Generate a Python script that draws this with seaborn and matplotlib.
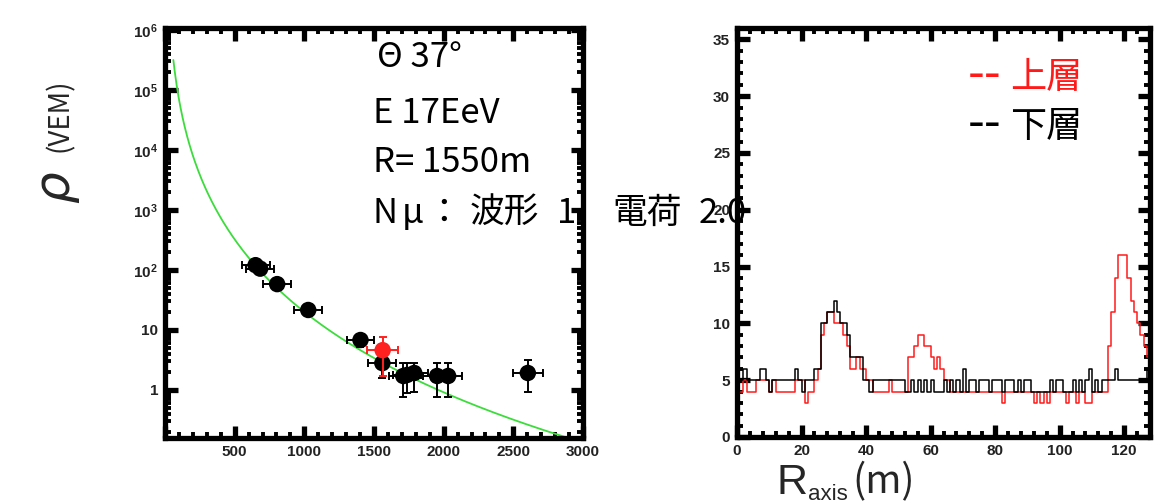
import numpy as np
import pandas as pd
import matplotlib
matplotlib.use("Agg")
import matplotlib.pyplot as plt
import seaborn as sns
from matplotlib.ticker import MultipleLocator, FixedLocator, FixedFormatter, LogLocator, NullFormatter

# ---------------- lateral distribution: station densities ----------------
station_r = [650, 683, 805, 1028, 1403, 1560, 1710, 1738, 1789, 1953, 2032, 2604]
station_rho = [120, 105, 58, 21.5, 6.8, 2.8, 1.71, 1.78, 1.92, 1.71, 1.71, 1.92]
station_r_err = [100, 100, 100, 100, 100, 100, 100, 100, 100, 100, 100, 108]
station_rho_lo = [15, 15, 8, 3, 1.6, 1.2, 0.95, 0.9, 1.0, 0.95, 0.95, 1.0]
station_rho_hi = [15, 15, 8, 3, 1.8, 1.4, 1.1, 1.0, 0.9, 1.1, 1.1, 1.25]

# station selected for the muon analysis
sel_r = [1562]
sel_rho = [4.6]
sel_r_err = [110]
sel_rho_lo = [2.9]
sel_rho_hi = [3.0]

# NKG-type LDF fit parameters
ldf_s1000 = 20.0
ldf_beta = 2.67
ldf_r0 = 700.0
ldf_r_range = [60, 2870]

# ---------------- signal histograms vs distance along axis ----------------
bin_edges_m = list(range(0, 129))
upper_layer = [
    4, 4, 5, 4, 4, 4, 5, 5, 5, 5, 4, 5, 4, 4, 4, 4,
    4, 4, 5, 5, 5, 3, 4, 4, 5, 6, 9, 10, 11, 11, 10, 10,
    10, 9, 8, 6, 6, 7, 6, 6, 5, 5, 4, 4, 4, 4, 4, 5,
    4, 4, 4, 4, 4, 7, 7, 8, 9, 9, 8, 8, 7, 6, 7, 6,
    5, 5, 4, 4, 4, 4, 4, 4, 4, 4, 4, 4, 4, 4, 4, 4,
    4, 4, 3, 4, 4, 4, 4, 4, 4, 4, 4, 4, 3, 4, 3, 4,
    3, 4, 4, 4, 4, 4, 3, 4, 4, 3, 4, 4, 3, 3, 4, 4,
    4, 4, 4, 8, 11, 14, 16, 16, 16, 14, 12, 11, 10, 9, 8, 7,
]
lower_layer = [
    5, 5, 6, 5, 5, 5, 5, 6, 6, 5, 4, 5, 5, 5, 5, 5,
    5, 5, 6, 5, 4, 5, 5, 5, 6, 6, 10, 10, 11, 11, 12, 11,
    10, 10, 9, 7, 7, 7, 7, 5, 5, 4, 5, 5, 5, 5, 5, 5,
    5, 5, 5, 5, 4, 4, 5, 4, 5, 4, 5, 4, 5, 4, 4, 4,
    5, 4, 5, 4, 5, 4, 6, 4, 5, 5, 4, 5, 5, 5, 4, 5,
    5, 5, 4, 5, 5, 5, 4, 5, 4, 5, 5, 4, 4, 4, 4, 4,
    4, 5, 4, 5, 5, 4, 4, 4, 5, 4, 5, 4, 5, 6, 4, 5,
    4, 5, 5, 5, 5, 6, 5, 5, 5, 5, 5, 5, 5, 5, 5, 6,
]

info_lines = ["Θ 37°", "E 17EeV", "R= 1550m"]
layer_names = ["上層", "下層"]

# ---------------- figure ----------------
sns.set_style("ticks")
plt.rcParams["font.family"] = ["Noto Sans CJK JP", "DejaVu Sans"]
plt.rcParams["mathtext.fontset"] = "custom"
plt.rcParams["mathtext.rm"] = "Liberation Sans"
plt.rcParams["mathtext.bf"] = "Liberation Sans:bold"

W, H = 1162, 503
fig = plt.figure(figsize=(W / 100, H / 100), dpi=100)
fig.patch.set_facecolor("white")


def fx(px):
    return px / W


def fy(py):
    return 1 - py / H


ax1 = fig.add_axes([fx(165), fy(438), 418 / W, 410 / H])
ax2 = fig.add_axes([fx(737), fy(437), 413 / W, 409 / H])


def frame(ax):
    ax.set_facecolor("none")
    for sp in ax.spines.values():
        sp.set_linewidth(3.8)
        sp.set_color("black")
        sp.set_visible(True)
    ax.tick_params(which="both", direction="in", top=True, right=True,
                   bottom=True, left=True, color="black")
    ax.tick_params(which="major", length=9, width=3.8, labelsize=11,
                   labelcolor="#222222", pad=5, labelfontfamily="Liberation Sans")
    ax.tick_params(which="minor", length=4.5, width=2.8)
    ax.grid(False)


# ---- left: lateral distribution ----
r_fit = np.linspace(ldf_r_range[0], ldf_r_range[1], 600)
x_fit = r_fit / ldf_r0
x_ref = 1000.0 / ldf_r0
rho_fit = ldf_s1000 * ((x_fit * (1 + x_fit)) / (x_ref * (1 + x_ref))) ** (-ldf_beta)
sns.lineplot(x=r_fit, y=rho_fit, ax=ax1, color="#3ddc3d", linewidth=1.3,
             estimator=None, sort=False)

ax1.errorbar(station_r, station_rho, xerr=station_r_err,
             yerr=[station_rho_lo, station_rho_hi], fmt="none", ecolor="black",
             elinewidth=1.4, capsize=3, capthick=1.4, zorder=3)
sns.scatterplot(x=station_r, y=station_rho, ax=ax1, color="black", s=140,
                edgecolor="none", zorder=4)
ax1.errorbar(sel_r, sel_rho, xerr=sel_r_err, yerr=[sel_rho_lo, sel_rho_hi],
             fmt="none", ecolor="#ff2020", elinewidth=1.4, capsize=3,
             capthick=1.4, zorder=5)
sns.scatterplot(x=sel_r, y=sel_rho, ax=ax1, color="#ff2020", s=140,
                edgecolor="none", zorder=6)

ax1.set_yscale("log")
ax1.set_xlim(0, 3000)
ax1.set_ylim(10 ** -0.8, 10 ** 6.03)
ax1.xaxis.set_major_locator(FixedLocator([0, 500, 1000, 1500, 2000, 2500, 3000]))
ax1.xaxis.set_major_formatter(
    FixedFormatter(["", "500", "1000", "1500", "2000", "2500", "3000"]))
ax1.xaxis.set_minor_locator(MultipleLocator(100))
ax1.yaxis.set_major_locator(FixedLocator([1, 10, 1e2, 1e3, 1e4, 1e5, 1e6]))
ax1.yaxis.set_major_formatter(FixedFormatter(
    ["1", "10", r"$\mathbf{10^{2}}$", r"$\mathbf{10^{3}}$", r"$\mathbf{10^{4}}$",
     r"$\mathbf{10^{5}}$", r"$\mathbf{10^{6}}$"]))
ax1.yaxis.set_minor_locator(LogLocator(base=10, subs=np.arange(2, 10), numticks=20))
ax1.yaxis.set_minor_formatter(NullFormatter())
ax1.set_xlabel("")
ax1.set_ylabel("")
frame(ax1)

# ---- right: upper / lower layer traces ----
hist_df = pd.DataFrame({
    "r": bin_edges_m,
    "upper": upper_layer + [upper_layer[-1]],
    "lower": lower_layer + [lower_layer[-1]],
})
sns.lineplot(data=hist_df, x="r", y="upper", ax=ax2, color="#ff1a1a",
             linewidth=1.1, drawstyle="steps-post", estimator=None, sort=False)
sns.lineplot(data=hist_df, x="r", y="lower", ax=ax2, color="black",
             linewidth=1.1, drawstyle="steps-post", estimator=None, sort=False)
ax2.set_xlim(0, 128)
ax2.set_ylim(0, 36)
ax2.xaxis.set_major_locator(MultipleLocator(20))
ax2.xaxis.set_minor_locator(MultipleLocator(4))
ax2.yaxis.set_major_locator(MultipleLocator(5))
ax2.yaxis.set_minor_locator(MultipleLocator(1))
ax2.set_xlabel("")
ax2.set_ylabel("")
frame(ax2)

for ax in (ax1, ax2):
    for lbl in ax.get_xticklabels() + ax.get_yticklabels():
        lbl.set_fontweight("bold")

# ---- annotations (drawn beneath the frames) ----
txt = dict(fontsize=25, va="baseline", ha="left", zorder=-1, color="black")
fig.text(fx(377), fy(67), info_lines[0], **txt)
fig.text(fx(373), fy(123), info_lines[1], **txt)
fig.text(fx(373), fy(172), info_lines[2], **txt)
fig.text(fx(373), fy(223), "N", **txt)
fig.text(fx(402), fy(223), "μ", style="italic", **txt)
fig.text(fx(444), fy(223), "：", **{**txt, "ha": "center"})
fig.text(fx(470), fy(223), "波形", **txt)
fig.text(fx(557), fy(223), "1", **txt)
fig.text(fx(612), fy(223), "電荷", **txt)
fig.text(fx(699), fy(223), "2.0", **txt)

# layer key
for name, color, base in zip(layer_names, ["#ff1a1a", "black"], [88, 137]):
    fig.text(fx(968), fy(base), "--", fontsize=34, color=color,
             family="DejaVu Sans", va="baseline", ha="left")
    fig.text(fx(1010), fy(base), name, fontsize=26, color=color,
             va="baseline", ha="left")

# axis titles
fig.text(fx(55), fy(187), "ρ", rotation=90, fontsize=36, style="italic",
         family="DejaVu Sans", ha="center", va="center")
fig.text(fx(60), fy(115), "(VEM)", rotation=90, fontsize=20,
         ha="center", va="center")
fig.text(fx(777), fy(494), "R", fontsize=31, family="Liberation Sans",
         va="baseline", ha="left")
fig.text(fx(808), fy(500), "axis", fontsize=16, family="Liberation Sans",
         va="baseline", ha="left")
fig.text(fx(852), fy(493), "(m)", fontsize=28, va="baseline", ha="left")

fig.savefig("out.png", dpi=100, facecolor="white")
